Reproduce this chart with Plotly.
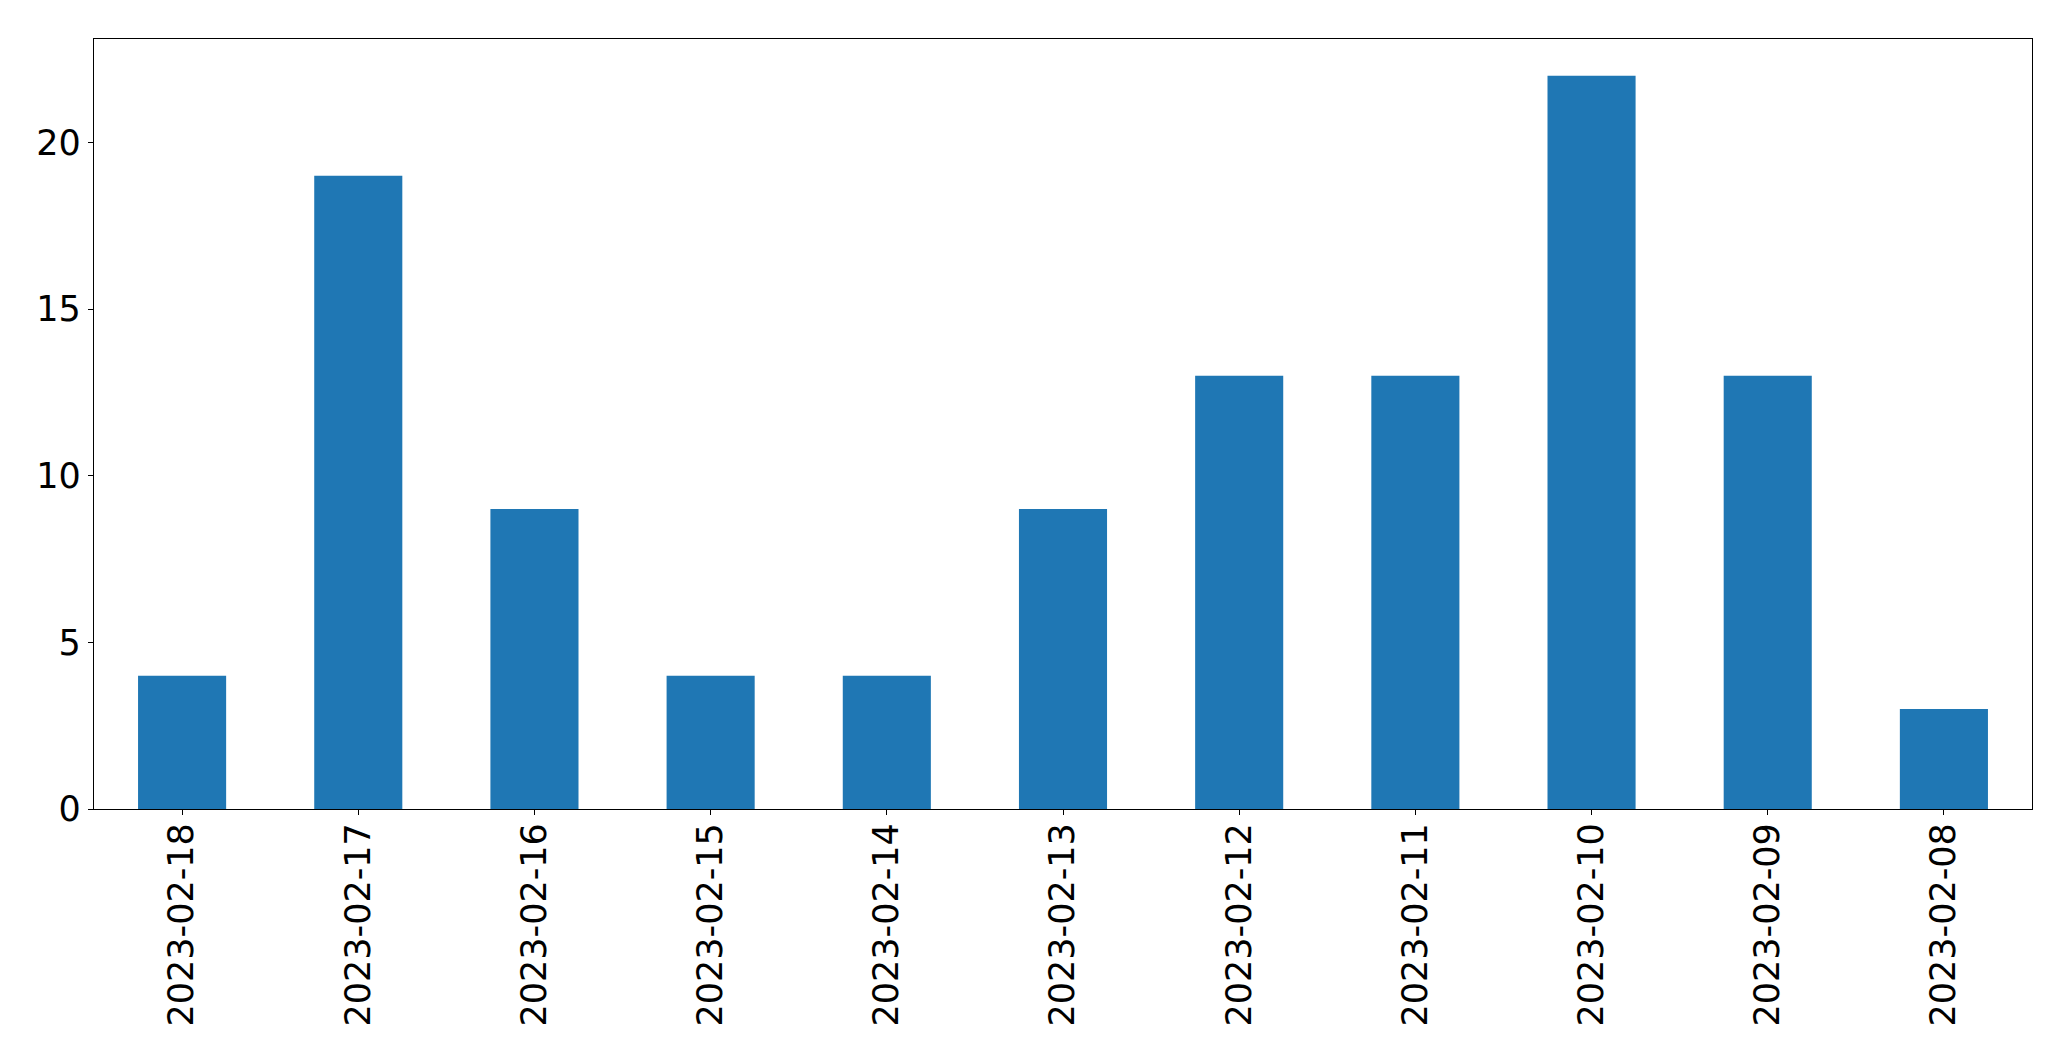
import plotly.graph_objects as go

dates = ["2023-02-18", "2023-02-17", "2023-02-16", "2023-02-15", "2023-02-14",
         "2023-02-13", "2023-02-12", "2023-02-11", "2023-02-10", "2023-02-09", "2023-02-08"]
counts = [4, 19, 9, 4, 4, 9, 13, 13, 22, 13, 3]
y_ticks = [0, 5, 10, 15, 20]

fig = go.Figure(go.Bar(
    x=list(range(len(dates))), y=counts, width=0.5,
    marker=dict(color="#1f77b4", line=dict(width=0)),
))

axis_common = dict(showline=True, mirror=True, linecolor="black", linewidth=1.3,
                   ticks="outside", ticklen=5, tickwidth=1.3, tickcolor="black",
                   showgrid=False, zeroline=False,
                   tickfont=dict(family="DejaVu Sans", size=35, color="black"))

fig.update_xaxes(range=[-0.5, len(dates) - 0.5], tickmode="array",
                 tickvals=list(range(len(dates))), ticktext=dates, tickangle=-90,
                 ticklabelstandoff=-6, **axis_common)
fig.update_yaxes(range=[0, max(counts) * 1.05], tickmode="array", tickvals=y_ticks,
                 ticktext=[str(v) for v in y_ticks], **axis_common)

# page body has an 8px default margin; compensate so the plot area lands where the reference has it
fig.update_layout(width=2063, height=1053, margin=dict(l=86, r=39, t=31, b=252, autoexpand=False),
                  paper_bgcolor="white", plot_bgcolor="white", showlegend=False)

fig.write_html("out.html")
